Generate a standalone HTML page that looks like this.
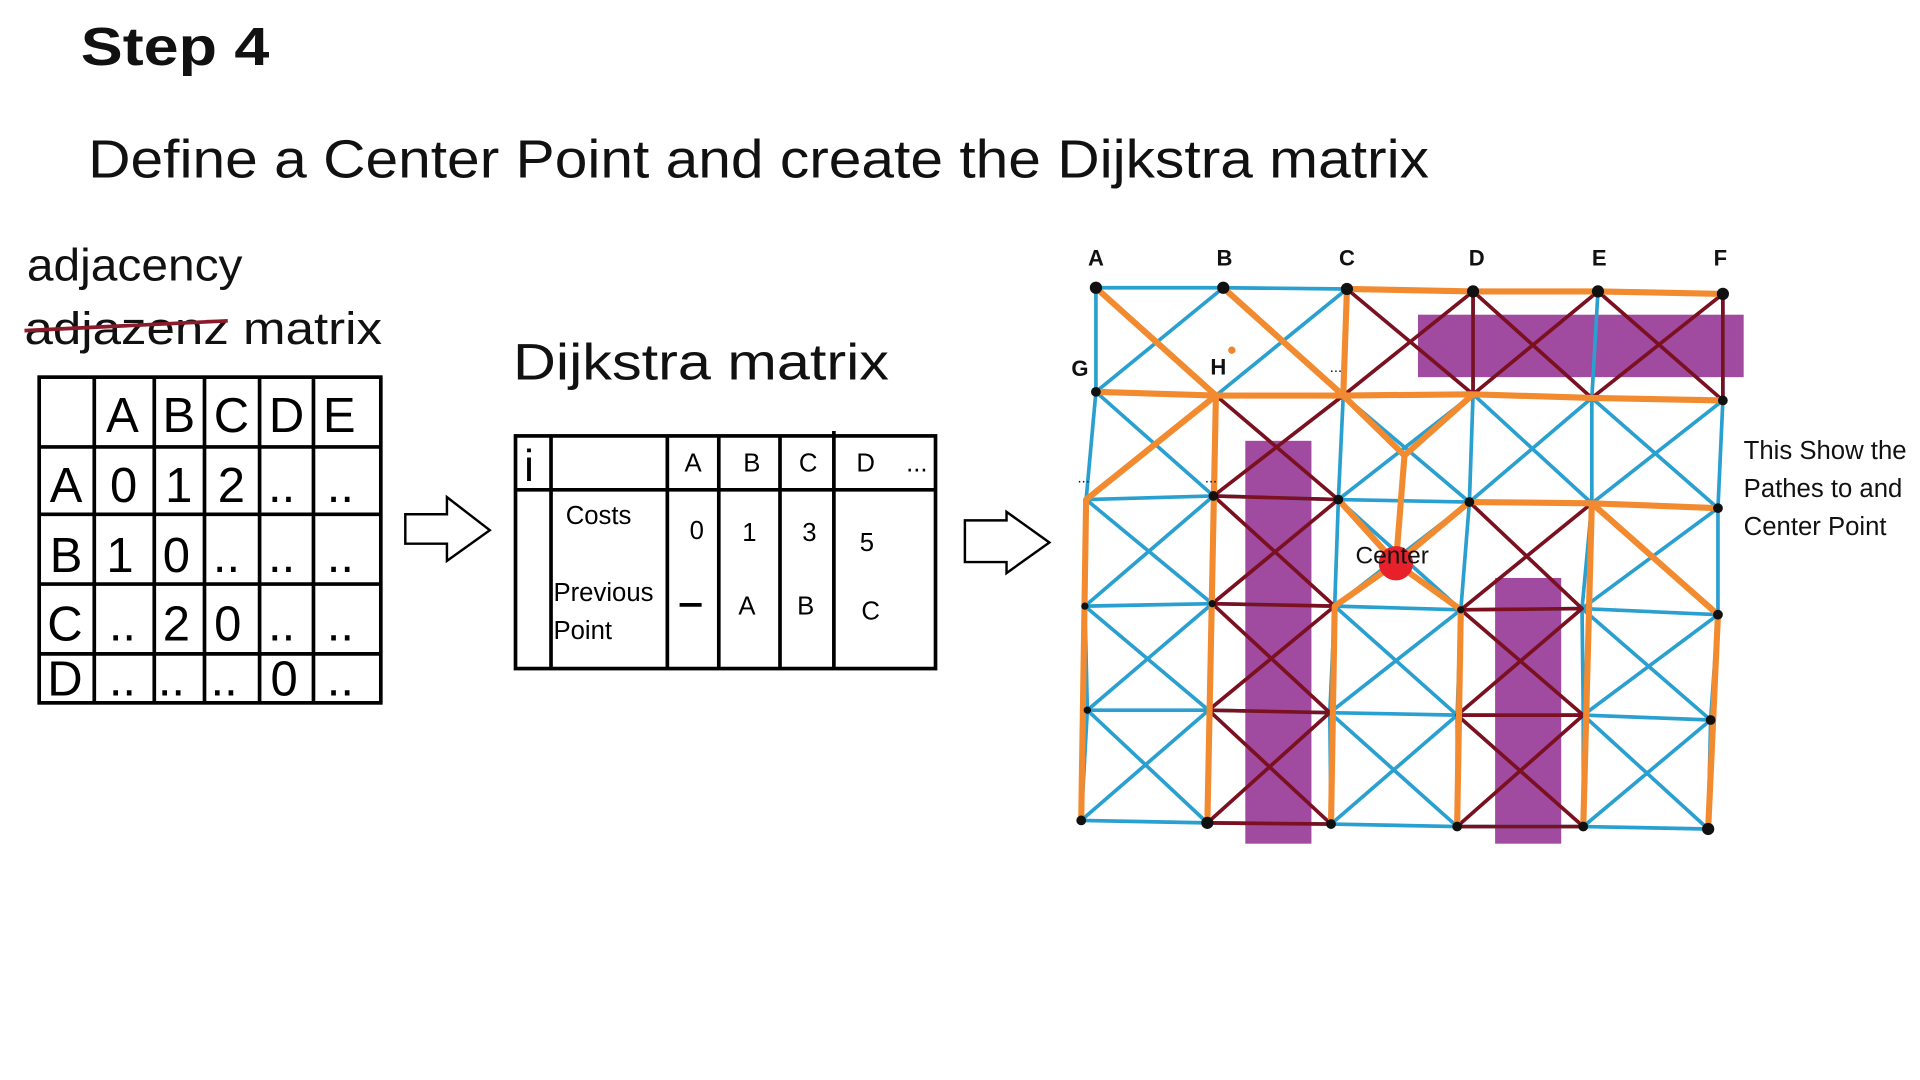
<!DOCTYPE html>
<html><head><meta charset="utf-8"><style>
html,body{margin:0;padding:0;background:#fff;}
svg{display:block}
text{font-family:"Liberation Sans",sans-serif;}
</style></head><body>
<svg width="1920" height="1080" viewBox="0 0 1568 882" preserveAspectRatio="none" xmlns="http://www.w3.org/2000/svg">
<rect width="1568" height="882" fill="#fff"/>
<text x="66" y="53" font-size="44" font-weight="bold" fill="#111" textLength="154" lengthAdjust="spacingAndGlyphs">Step  4</text>
<text x="72" y="145" font-size="44" fill="#111" textLength="1095" lengthAdjust="spacingAndGlyphs">Define a Center Point and create the Dijkstra matrix</text>
<text x="22" y="229" font-size="37" fill="#111" textLength="176" lengthAdjust="spacingAndGlyphs">adjacency</text>
<text x="20" y="281" font-size="37" fill="#111" textLength="292" lengthAdjust="spacingAndGlyphs">adjazenz matrix</text>
<line x1="20" y1="270" x2="186" y2="262" stroke="#8b1a2a" stroke-width="3"/>
<g stroke="#000" stroke-width="3" fill="none">
<rect x="32" y="308" width="279" height="266"/>
<line x1="77" y1="308" x2="77" y2="574"/><line x1="126" y1="308" x2="126" y2="574"/><line x1="167" y1="308" x2="167" y2="574"/><line x1="212" y1="308" x2="212" y2="574"/><line x1="256" y1="308" x2="256" y2="574"/>
<line x1="32" y1="365" x2="311" y2="365"/><line x1="32" y1="420" x2="311" y2="420"/><line x1="32" y1="477" x2="311" y2="477"/><line x1="32" y1="534" x2="311" y2="534"/>
</g>
<g font-size="40" fill="#000" text-anchor="middle">
<text x="100" y="353">A</text><text x="146" y="353">B</text><text x="189" y="353">C</text><text x="234" y="353">D</text><text x="277" y="353">E</text>
<text x="54" y="410">A</text><text x="101" y="410">0</text><text x="146" y="410">1</text><text x="189" y="410">2</text><text x="230" y="410">..</text><text x="278" y="410">..</text>
<text x="54" y="467">B</text><text x="98" y="467">1</text><text x="144" y="467">0</text><text x="185" y="467">..</text><text x="230" y="467">..</text><text x="278" y="467">..</text>
<text x="53" y="523">C</text><text x="100" y="523">..</text><text x="144" y="523">2</text><text x="186" y="523">0</text><text x="230" y="523">..</text><text x="278" y="523">..</text>
<text x="53" y="568">D</text><text x="100" y="568">..</text><text x="140" y="568">..</text><text x="183" y="568">..</text><text x="232" y="568">0</text><text x="278" y="568">..</text>
</g>
<path d="M331 420 H365 V406 L400 433 L365 458 V444 H331 Z" fill="#fff" stroke="#000" stroke-width="2"/>
<path d="M788 425 H822 V418 L857 443 L822 468 V459 H788 Z" fill="#fff" stroke="#000" stroke-width="2"/>
<text x="419" y="310" font-size="42" fill="#111" textLength="307" lengthAdjust="spacingAndGlyphs">Dijkstra matrix</text>
<g stroke="#000" stroke-width="3" fill="none">
<rect x="421" y="356" width="343" height="190"/>
<line x1="450" y1="356" x2="450" y2="546"/><line x1="545" y1="356" x2="545" y2="546"/><line x1="587" y1="356" x2="587" y2="546"/><line x1="637" y1="356" x2="637" y2="546"/><line x1="681" y1="352" x2="681" y2="546"/>
<line x1="421" y1="400" x2="764" y2="400"/>
</g>
<g font-size="21" fill="#000">
<text x="428" y="393" font-size="36">i</text>
<text x="566" y="385" text-anchor="middle">A</text><text x="614" y="385" text-anchor="middle">B</text><text x="660" y="385" text-anchor="middle">C</text><text x="707" y="385" text-anchor="middle">D</text><text x="740" y="385">...</text>
<text x="462" y="428">Costs</text>
<text x="569" y="440" text-anchor="middle">0</text><text x="612" y="442" text-anchor="middle">1</text><text x="661" y="442" text-anchor="middle">3</text><text x="708" y="450" text-anchor="middle">5</text>
<text x="452" y="491">Previous</text><text x="452" y="522">Point</text>
<text x="610" y="502" text-anchor="middle">A</text><text x="658" y="502" text-anchor="middle">B</text><text x="711" y="506" text-anchor="middle">C</text>
</g>
<line x1="555" y1="494" x2="573" y2="494" stroke="#000" stroke-width="3"/>
<g fill="#a04aa0">
<rect x="1158" y="257" width="266" height="51"/>
<rect x="1017" y="360" width="54" height="329"/>
<rect x="1221" y="472" width="54" height="217"/>
</g>
<g fill="none" stroke="#2aa0d0" stroke-width="3" stroke-linecap="round">
<polyline points="895,235 999,235 1100,236 1203,238 1305,238 1407,240"/>
<polyline points="895,320 993,323 1097,323 1203,322 1300,325 1407,327"/>
<polyline points="887,408 991,405 1093,408 1200,410 1300,411 1403,415"/>
<polyline points="886,495 990,493 1090,495 1193,498 1292,497 1403,502"/>
<polyline points="888,580 987,580 1086,582 1190,584 1293,584 1397,588"/>
<polyline points="883,670 986,672 1087,673 1190,675 1293,675 1395,677"/>
<polyline points="895,235 895,320 887,408 886,495 888,580 883,670"/>
<polyline points="993,323 991,405 990,493 987,580 986,672"/>
<polyline points="1100,236 1097,323 1093,408 1090,495 1086,582 1087,673"/>
<polyline points="1203,238 1203,322 1200,410 1193,498 1190,584 1190,675"/>
<polyline points="1305,238 1300,325 1300,411 1292,497 1293,584 1293,675"/>
<polyline points="1407,240 1407,327 1403,415 1403,502 1397,588 1395,677"/>
<path d="M895 235L993 323M999 235L895 320M999 235L1097 323M1100 236L993 323
M895 320L991 405M993 323L887 408M1097 323L1200 410M1203 322L1093 408M1203 322L1300 411M1300 325L1200 410M1300 325L1403 415M1407 327L1300 411
M887 408L990 493M991 405L886 495M1093 408L1193 498M1200 410L1090 495M1300 411L1403 502M1403 415L1292 497
M886 495L987 580M990 493L888 580M1090 495L1190 584M1193 498L1086 582M1292 497L1397 588M1403 502L1293 584
M888 580L986 672M987 580L883 670M1086 582L1190 675M1190 584L1087 673M1293 584L1395 677M1397 588L1293 675"/>
</g>
<g fill="none" stroke="#7a1020" stroke-width="3" stroke-linecap="round">
<path d="M1100 236L1203 322M1203 238L1097 323M1203 238L1300 325M1305 238L1203 322M1305 238L1407 327M1407 240L1300 325
M993 323L1093 408M1097 323L991 405M991 405L1090 495M1093 408L990 493M990 493L1086 582M1090 495L987 580M987 580L1087 673M1086 582L986 672
M1200 410L1292 497M1300 411L1193 498M1193 498L1293 584M1292 497L1190 584M1190 584L1293 675M1293 584L1190 675
M991 405L1093 408M990 493L1090 495M987 580L1086 582M986 672L1087 673M1193 498L1292 497M1190 584L1293 584M1190 675L1293 675
M1203 238L1203 322M1407 240L1407 327"/>
</g>
<g fill="none" stroke="#f28a30" stroke-width="5" stroke-linecap="round" stroke-linejoin="round">
<path d="M895 235L993 323M999 235L1097 323M1100 236L1203 238L1305 238L1407 240M1100 236L1097 323
M895 320L993 323L1097 323L1203 322L1300 325L1407 327
M993 323L887 408L883 670M993 323L986 672
M1097 323L1147 372L1203 322M1147 372L1140 460
M1093 408L1140 460L1090 495L1087 673M1140 460L1200 410L1300 411L1403 415M1140 460L1193 498L1190 675
M1300 411L1403 502L1395 677M1300 411L1293 675"/>
</g>
<circle cx="1140" cy="460" r="14" fill="#e8202a"/>
<g fill="#111">
<circle cx="895" cy="235" r="5"/><circle cx="999" cy="235" r="5"/><circle cx="1100" cy="236" r="5"/><circle cx="1203" cy="238" r="5"/><circle cx="1305" cy="238" r="5"/><circle cx="1407" cy="240" r="5"/>
<circle cx="895" cy="320" r="4"/><circle cx="1407" cy="327" r="4"/><circle cx="991" cy="405" r="4"/><circle cx="1093" cy="408" r="4"/><circle cx="1200" cy="410" r="4"/><circle cx="1403" cy="415" r="4"/>
<circle cx="886" cy="495" r="3"/><circle cx="990" cy="493" r="3"/><circle cx="1193" cy="498" r="3"/><circle cx="1403" cy="502" r="4"/>
<circle cx="888" cy="580" r="3"/><circle cx="1397" cy="588" r="4"/>
<circle cx="883" cy="670" r="4"/><circle cx="986" cy="672" r="5"/><circle cx="1087" cy="673" r="4"/><circle cx="1190" cy="675" r="4"/><circle cx="1293" cy="675" r="4"/><circle cx="1395" cy="677" r="5"/>
</g>
<g font-size="18" font-weight="bold" fill="#111" text-anchor="middle">
<text x="895" y="217">A</text><text x="1000" y="217">B</text><text x="1100" y="217">C</text><text x="1206" y="217">D</text><text x="1306" y="217">E</text><text x="1405" y="217">F</text>
<text x="882" y="307">G</text><text x="995" y="306">H</text>
</g>
<g font-size="12" fill="#111"><text x="880" y="394">...</text><text x="984" y="394">...</text><text x="1086" y="304">...</text></g>
<circle cx="1006" cy="286" r="3" fill="#f0862a"/>
<text x="1107" y="460" font-size="20" fill="#111">Center</text>
<g font-size="21" fill="#111"><text x="1424" y="375">This Show the</text><text x="1424" y="406">Pathes to and</text><text x="1424" y="437">Center Point</text></g>
</svg>
</body></html>
